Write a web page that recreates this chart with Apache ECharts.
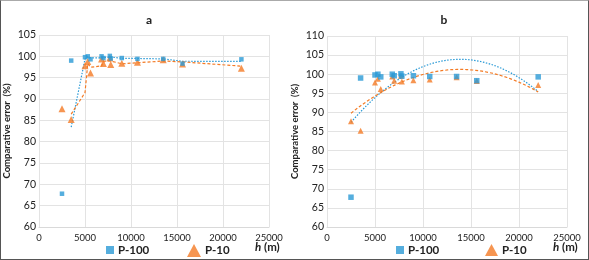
<!DOCTYPE html>
<html>
<head>
<meta charset="utf-8">
<script src="https://cdn.jsdelivr.net/npm/echarts@6/dist/echarts.min.js"></script>
<style>
  html, body { margin: 0; padding: 0; background: #fff; }
  #frame { position: absolute; left: 0; top: 0; width: 589px; height: 260px; box-sizing: border-box;
    border: 1px solid #555; border-top-color: #aaa; }
  #chart { width: 589px; height: 260px; }
</style>
</head>
<body>
<div id="chart"></div>
<div id="frame"></div>
<script>
// h (m) of each measurement
const hValues = [2500, 3500, 5000, 5300, 5600, 6800, 7000, 7700, 7800, 9000, 10700, 13500, 15600, 22000];
// comparative error (%)
const p100 = [67.8, 99.0, 99.8, 100.0, 99.3, 100.0, 99.6, 100.1, 99.5, 99.6, 99.4, 99.4, 98.3, 99.3];
const p10 = [87.7, 85.2, 97.8, 98.8, 96.1, 99.4, 98.3, 99.6, 98.1, 98.4, 98.6, 99.2, 98.2, 97.2];

const BLUE = '#2a9ad6';
const ORANGE = '#f47b25';
const FONT = 'Lato';

const pairs = ys => hValues.map((h, i) => [h, ys[i]]);

// 2-period moving average trendline (chart a)
const movingAvg = ys => hValues.slice(1).map((h, i) => [h, (ys[i] + ys[i + 1]) / 2]);

// 2nd order polynomial trendline (chart b)
const polyFit = ys => {
  const n = hValues.length;
  const s = [0, 0, 0, 0, 0];
  const t = [0, 0, 0];
  hValues.forEach((h, i) => {
    const x = h / 1000;
    for (let k = 0; k < 5; k++) s[k] += Math.pow(x, k);
    for (let k = 0; k < 3; k++) t[k] += Math.pow(x, k) * ys[i];
  });
  const m = [[s[0], s[1], s[2], t[0]], [s[1], s[2], s[3], t[1]], [s[2], s[3], s[4], t[2]]];
  for (let c = 0; c < 3; c++) {
    for (let r = c + 1; r < 3; r++) {
      const f = m[r][c] / m[c][c];
      for (let k = c; k < 4; k++) m[r][k] -= f * m[c][k];
    }
  }
  const co = [0, 0, 0];
  for (let r = 2; r >= 0; r--) {
    let v = m[r][3];
    for (let k = r + 1; k < 3; k++) v -= m[r][k] * co[k];
    co[r] = v / m[r][r];
  }
  const out = [];
  const x0 = hValues[0], x1 = hValues[n - 1];
  for (let j = 0; j <= 60; j++) {
    const h = x0 + (x1 - x0) * j / 60;
    const x = h / 1000;
    out.push([h, co[0] + co[1] * x + co[2] * x * x]);
  }
  return out;
};

const chart = echarts.init(document.getElementById('chart'), null, { renderer: 'canvas' });

const xAxisBase = gridIndex => ({
  type: 'value',
  gridIndex,
  min: 0,
  max: 25000,
  interval: 5000,
  axisLine: { show: true, lineStyle: { color: '#d9d9d9' } },
  axisTick: { show: false },
  splitLine: { show: true, lineStyle: { color: '#e3e3e3' } },
  axisLabel: { color: '#222', fontSize: 9.5, fontFamily: FONT, margin: 6, formatter: v => String(v) }
});

const yAxisBase = (gridIndex, max) => ({
  type: 'value',
  gridIndex,
  min: 60,
  max,
  interval: 5,
  name: 'Comparative error  (%)',
  nameLocation: 'middle',
  nameGap: 27,
  nameTextStyle: { color: '#222', fontSize: 9.5, fontWeight: 'bold', fontFamily: FONT },
  axisLine: { show: false },
  axisTick: { show: false },
  splitLine: { show: true, lineStyle: { color: '#e3e3e3' } },
  axisLabel: { color: '#222', fontSize: 10.5, fontFamily: FONT, margin: 3 }
});

const scatter = (name, data, idx, symbol, size, color, z) => ({
  name,
  type: 'scatter',
  xAxisIndex: idx,
  yAxisIndex: idx,
  symbol,
  symbolSize: size,
  itemStyle: { color },
  data,
  z
});

const trend = (data, idx, color, dash) => ({
  type: 'line',
  xAxisIndex: idx,
  yAxisIndex: idx,
  data,
  showSymbol: false,
  silent: true,
  lineStyle: { color, width: 1.2, type: dash },
  z: 1
});

const legendItem = (left, name, icon, w, h, color) => ({
  left,
  top: 239,
  itemWidth: w,
  itemHeight: h,
  itemGap: 0,
  data: [{ name, icon, itemStyle: { color } }],
  textStyle: { color: '#222', fontSize: 11.5, fontWeight: 'bold', fontFamily: FONT, padding: [0, 0, 0, -1] }
});

const hLabel = left => ({
  type: 'text',
  left,
  top: 241,
  style: {
    text: '{i|h} (m)',
    fill: '#222',
    font: 'bold 11.5px ' + FONT,
    rich: { i: { fontStyle: 'italic', fontWeight: 'bold', fontSize: 11.5, fontFamily: FONT } }
  }
});

chart.setOption({
  animation: false,
  title: [
    { text: 'a', left: 144, top: 9, textAlign: 'center',
      textStyle: { fontSize: 12, fontWeight: 'bold', color: '#222', fontFamily: FONT } },
    { text: 'b', left: 439, top: 9, textAlign: 'center',
      textStyle: { fontSize: 12, fontWeight: 'bold', color: '#222', fontFamily: FONT } }
  ],
  grid: [
    { left: 39, top: 35, width: 230, height: 192 },
    { left: 327, top: 36, width: 240, height: 191 }
  ],
  xAxis: [xAxisBase(0), xAxisBase(1)],
  yAxis: [yAxisBase(0, 105), yAxisBase(1, 110)],
  legend: [
    legendItem(101, 'P-100', 'rect', 8, 8, BLUE),
    legendItem(182, 'P-10', 'triangle', 14, 13, ORANGE),
    legendItem(391, 'P-100', 'rect', 8, 8, BLUE),
    legendItem(480, 'P-10', 'triangle', 13, 12, ORANGE)
  ],
  graphic: [hLabel(255), hLabel(553)],
  series: [
    trend(movingAvg(p100), 0, BLUE, [1.5, 1.5]),
    trend(movingAvg(p10), 0, ORANGE, [3, 2]),
    scatter('P-10', pairs(p10), 0, 'triangle', 7, ORANGE, 2),
    scatter('P-100', pairs(p100), 0, 'rect', 4.5, BLUE, 3),
    trend(polyFit(p100), 1, BLUE, [1.5, 1.5]),
    trend(polyFit(p10), 1, ORANGE, [3, 2]),
    scatter('P-10', pairs(p10), 1, 'triangle', 6, ORANGE, 2),
    scatter('P-100', pairs(p100), 1, 'rect', 5.5, BLUE, 3)
  ]
});
</script>
</body>
</html>
